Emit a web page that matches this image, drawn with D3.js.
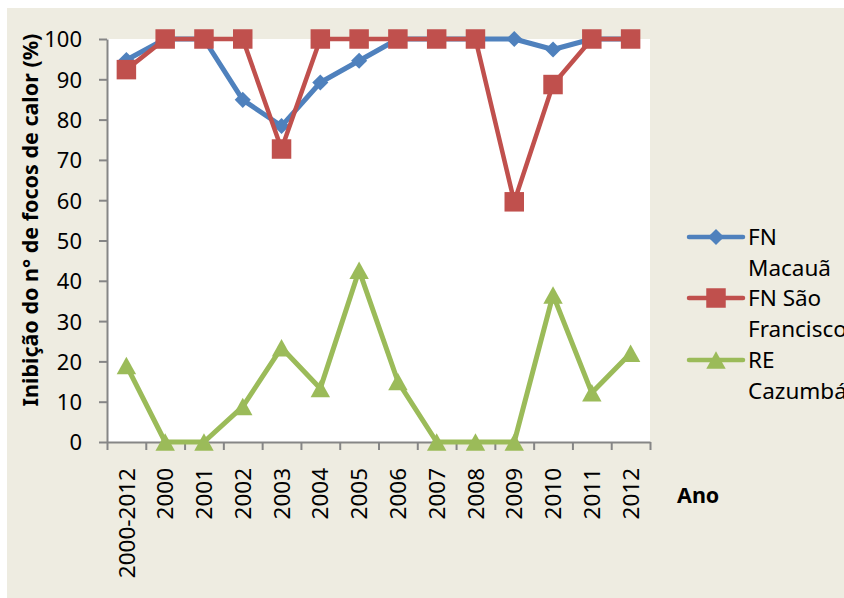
<!DOCTYPE html>
<html>
<head>
<meta charset="utf-8">
<script src="https://cdn.jsdelivr.net/npm/d3@7"></script>
<style>
  body { margin: 0; background: #fff; }
  text { font-family: "Noto Sans", "Open Sans", sans-serif; fill: #000; }
</style>
</head>
<body>
<div id="chart"></div>
<script>
// data
const categories = ["2000-2012", "2000", "2001", "2002", "2003", "2004", "2005",
    "2006", "2007", "2008", "2009", "2010", "2011", "2012"];
const macaua = [94.8, 100, 100, 84.9, 78.4, 89.2, 94.6, 100, 100, 100, 100, 97.4, 100, 100];
const saoFrancisco = [92.4, 100, 100, 100, 72.7, 100, 100, 100, 100, 100, 59.6, 88.7, 100, 100];
const cazumba = [19, 0, 0, 8.8, 23.4, 13.3, 42.6, 15, 0, 0, 0, 36.5, 12.2, 22];
const seriesNames = [["FN", "Macauã"], ["FN São", "Francisco"], ["RE", "Cazumbá"]];
const yTicks = [0, 10, 20, 30, 40, 50, 60, 70, 80, 90, 100];

const W = 844, H = 598;
const plot = {left: 107, right: 650, top: 39, bottom: 442};

const svg = d3.select("#chart").append("svg")
    .attr("width", W)
    .attr("height", H);

// chart background
svg.append("rect")
    .attr("x", 7).attr("y", 8)
    .attr("width", W - 7).attr("height", H - 8)
    .attr("fill", "#EEECE1");

svg.append("rect")
    .attr("x", plot.left).attr("y", plot.top)
    .attr("width", plot.right - plot.left).attr("height", plot.bottom - plot.top)
    .attr("fill", "#fff");

let x = d3.scaleBand().domain(categories).range([plot.left, plot.right]);
let xEdge = d3.scaleLinear().domain([0, categories.length]).range([plot.left, plot.right]);
let y = d3.scaleLinear().domain([0, 100]).range([plot.bottom, plot.top]);

// y axis
let yAxis = svg.append("g")
    .attr("transform", `translate(${plot.left},0)`)
    .call(d3.axisLeft(y).tickValues(yTicks).tickSize(8).tickPadding(17).tickSizeOuter(0));
yAxis.selectAll("text").style("font-size", "22px").attr("dy", "0.36em");

// x axis: boundary ticks
let xAxis = svg.append("g")
    .attr("transform", `translate(0,${plot.bottom})`)
    .call(d3.axisBottom(xEdge).tickValues(d3.range(categories.length + 1)).tickSize(8).tickFormat("").tickSizeOuter(0));

svg.selectAll(".domain, .tick line")
    .attr("stroke", "#868686")
    .attr("stroke-width", 2);

// x labels, rotated
svg.append("g").selectAll("text")
    .data(categories)
    .enter().append("text")
    .attr("transform", d => `translate(${x(d) + x.bandwidth() / 2},468) rotate(-90)`)
    .attr("text-anchor", "end")
    .attr("dy", "0.36em")
    .style("font-size", "22.5px")
    .text(d => d);

// axis titles
svg.append("text")
    .attr("transform", "translate(30,220) rotate(-90)")
    .attr("text-anchor", "middle")
    .attr("dy", "0.36em")
    .style("font-size", "21.5px")
    .style("font-weight", "bold")
    .text("Inibição do n° de focos de calor (%)");

svg.append("text")
    .attr("x", 677).attr("y", 495)
    .attr("dy", "0.36em")
    .style("font-size", "21.5px")
    .style("font-weight", "bold")
    .text("Ano");

// series
const diamond = {draw(ctx, size) {
    let r = Math.sqrt(size) / 2 * Math.SQRT2;
    ctx.moveTo(0, -r); ctx.lineTo(r, 0); ctx.lineTo(0, r); ctx.lineTo(-r, 0); ctx.closePath();
}};
const triangle = {draw(ctx, size) {
    let w = Math.sqrt(size * 2 / 0.9) / 2;
    let h = w * 1.8;
    ctx.moveTo(0, -h / 2); ctx.lineTo(w, h / 2); ctx.lineTo(-w, h / 2); ctx.closePath();
}};

const series = [
    {values: macaua, color: "#4F81BD", width: 5, symbol: diamond, size: 130},
    {values: saoFrancisco, color: "#C0504D", width: 4.5, symbol: d3.symbolSquare, size: 380},
    {values: cazumba, color: "#9BBB59", width: 5, symbol: triangle, size: 170}
];

let line = d3.line()
    .x((d, i) => x(categories[i]) + x.bandwidth() / 2)
    .y(d => y(d));

series.forEach(s => {
    let g = svg.append("g");
    g.append("path")
        .datum(s.values)
        .attr("d", line)
        .attr("fill", "none")
        .attr("stroke", s.color)
        .attr("stroke-width", s.width)
        .attr("stroke-linejoin", "round");
    g.selectAll("path.mark")
        .data(s.values)
        .enter().append("path")
        .attr("class", "mark")
        .attr("d", d3.symbol().type(s.symbol).size(s.size))
        .attr("transform", (d, i) => `translate(${x(categories[i]) + x.bandwidth() / 2},${y(d)})`)
        .attr("fill", s.color);
});

// legend
let legend = svg.append("g");
let legendY = [237, 298, 360];
series.forEach((s, i) => {
    let g = legend.append("g").attr("transform", `translate(0,${legendY[i]})`);
    g.append("line")
        .attr("x1", 689).attr("x2", 743)
        .attr("stroke", s.color)
        .attr("stroke-width", 4.5)
        .attr("stroke-linecap", "round");
    g.append("path")
        .attr("d", d3.symbol().type(s.symbol).size(s.size))
        .attr("transform", "translate(716,0)")
        .attr("fill", s.color);
    seriesNames[i].forEach((t, j) => {
        g.append("text")
            .attr("x", 748).attr("y", j * 31)
            .attr("dy", "0.36em")
            .style("font-size", "22.5px")
            .text(t);
    });
});
</script>
</body>
</html>
